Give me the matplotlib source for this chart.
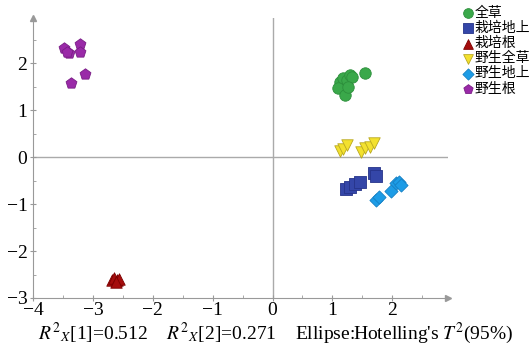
import matplotlib
matplotlib.use("Agg")
import matplotlib.pyplot as plt

# scores
whole_x = [1.12, 1.17, 1.24, 1.29, 1.32, 1.09, 1.21, 1.26, 1.55]
whole_y = [1.60, 1.68, 1.64, 1.74, 1.70, 1.47, 1.32, 1.49, 1.79]
cult_aer_x = [1.22, 1.29, 1.37, 1.46, 1.70, 1.72]
cult_aer_y = [-0.68, -0.64, -0.57, -0.53, -0.34, -0.40]
cult_root_x = [-2.68, -2.64, -2.60, -2.57, -2.62]
cult_root_y = [-2.62, -2.58, -2.62, -2.60, -2.65]
wild_whole_x = [1.12, 1.18, 1.25, 1.48, 1.55, 1.62, 1.70]
wild_whole_y = [0.13, 0.17, 0.26, 0.11, 0.19, 0.21, 0.30]
wild_aer_x = [1.73, 1.78, 1.97, 2.06, 2.11, 2.15]
wild_aer_y = [-0.91, -0.85, -0.72, -0.55, -0.53, -0.60]
wild_root_x = [-3.48, -3.40, -3.43, -3.22, -3.22, -3.13, -3.37]
wild_root_y = [2.32, 2.21, 2.23, 2.40, 2.23, 1.77, 1.57]

labels = ["全草", "栽培地上", "栽培根", "野生全草", "野生地上", "野生根"]

plt.rcParams["font.family"] = ["Liberation Serif", "DejaVu Serif"]
plt.rcParams["mathtext.fontset"] = "stix"

fig = plt.figure(figsize=(5.32, 3.46), dpi=100)
ax = fig.add_axes([33 / 532, 48 / 346, 415 / 532, 280 / 346])

groups = [
    (whole_x, whole_y, "o", "#3aa84a", "#2d8f3c"),
    (cult_aer_x, cult_aer_y, "s", "#3446a8", "#26348a"),
    (cult_root_x, cult_root_y, "^", "#a50d0d", "#7d0000"),
    (wild_whole_x, wild_whole_y, "v", "#f3e12e", "#b9a820"),
    (wild_aer_x, wild_aer_y, "D", "#1d9ce6", "#1580c4"),
    (wild_root_x, wild_root_y, "p", "#9a2aa8", "#7a1d86"),
]
for (xs, ys, m, fc, ec), lab in zip(groups, labels):
    ax.scatter(xs, ys, marker=m, s=68 if m != "D" else 45,
               facecolor=fc, edgecolor=ec, linewidth=0.6, label=lab, zorder=3)

ax.axhline(0, color="#aaaaaa", lw=1, zorder=1)
ax.axvline(0, color="#aaaaaa", lw=1, zorder=1)

ax.set_xlim(-4, 2.93)
ax.set_ylim(-3, 2.96)
ax.set_xticks([-4, -3, -2, -1, 0, 1, 2])
ax.set_yticks([-3, -2, -1, 0, 1, 2])
ax.set_xticklabels(["\u22124", "\u22123", "\u22122", "\u22121", "0", "1", "2"])
ax.set_yticklabels(["\u22123", "\u22122", "\u22121", "0", "1", "2"])
ax.set_xticks([-3.5, -2.5, -1.5, -0.5, 0.5, 1.5, 2.5], minor=True)
ax.set_yticks([-2.5, -1.5, -0.5, 0.5, 1.5, 2.5], minor=True)
ax.tick_params(which="major", direction="inout", length=4, color="#999999",
               labelsize=14)
ax.tick_params(axis="x", pad=1)
ax.tick_params(axis="y", pad=2)
ax.tick_params(which="minor", direction="in", length=2, color="#999999")

for s in ["top", "right"]:
    ax.spines[s].set_visible(False)
for s in ["left", "bottom"]:
    ax.spines[s].set_color("#999999")
ax.plot(1, 0, ">", transform=ax.transAxes, color="#999999", ms=5, clip_on=False)
ax.plot(0, 1, "^", transform=ax.transAxes, color="#999999", ms=5, clip_on=False)

fig.text(276 / 532, 0.0,
         r"$R^2{}_X$[1]=0.512    $R^2{}_X$[2]=0.271    Ellipse:Hotelling's $T^2$(95%)",
         ha="center", va="bottom", fontsize=14)

ax.legend(loc="upper left", bbox_to_anchor=(464 / 532, 1 - 6 / 346),
          bbox_transform=fig.transFigure, frameon=False,
          prop={"family": ["Noto Sans CJK SC"], "size": 10},
          handlelength=0.6, handletextpad=0.15, labelspacing=0.08,
          borderpad=0, borderaxespad=0, markerscale=0.85)

fig.savefig("out.png", dpi=100)
